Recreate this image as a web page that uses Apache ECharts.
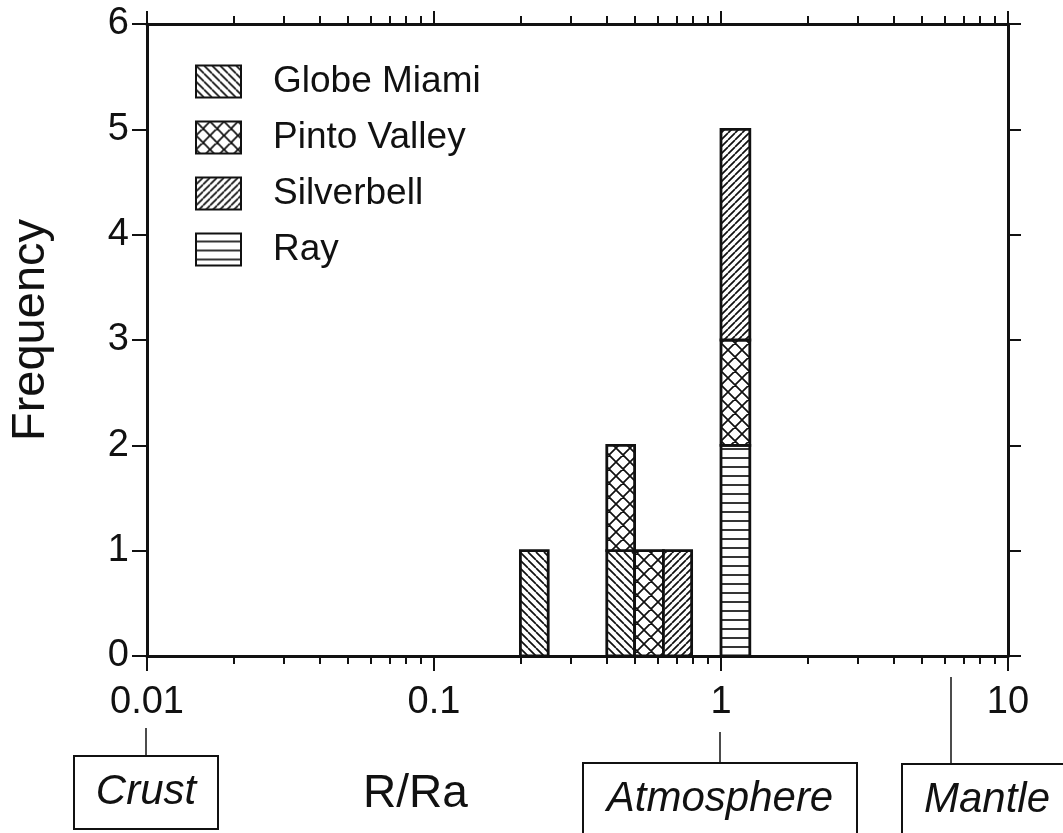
<!DOCTYPE html>
<html>
<head>
<meta charset="utf-8">
<script src="https://cdn.jsdelivr.net/npm/echarts@6/dist/echarts.min.js"></script>
<style>
  html, body { margin: 0; padding: 0; background: #fff; }
  #chart { width: 1063px; height: 833px; }
</style>
</head>
<body>
<div id="chart"></div>
<script>
// histogram bins (R/Ra, log-spaced) and counts per deposit
const binLo = [0.2, 0.4, 0.5, 0.63, 1.0]
const binHi = [0.25, 0.5, 0.63, 0.79, 1.26]
const seriesNames = ['Ray', 'Globe Miami', 'Pinto Valley', 'Silverbell']
const rayCounts = [0, 0, 0, 0, 2]
const globeMiamiCounts = [1, 1, 0, 0, 0]
const pintoValleyCounts = [0, 1, 1, 0, 1]
const silverbellCounts = [0, 0, 0, 1, 2]
const legendOrder = ['Globe Miami', 'Pinto Valley', 'Silverbell', 'Ray']

// end-member reference values on the R/Ra axis
const endMembers = ['Crust', 'Atmosphere', 'Mantle']
const endMemberValues = [0.01, 1, 6.4]

const xMajorTicks = [0.01, 0.1, 1, 10]

const FONT = '"Liberation Sans", Arial, Helvetica, sans-serif'
const INK = '#111'

// hatch fills
function hatch(kind, s) {
  const c = document.createElement('canvas')
  c.width = s; c.height = s
  const g = c.getContext('2d')
  g.fillStyle = '#fff'
  g.fillRect(0, 0, s, s)
  g.strokeStyle = INK
  g.lineWidth = 1.7
  g.beginPath()
  if (kind === 'back' || kind === 'cross') {
    for (const k of [-s, 0, s]) { g.moveTo(k, 0); g.lineTo(k + s, s) }
  }
  if (kind === 'fwd' || kind === 'cross') {
    for (const k of [-s, 0, s]) { g.moveTo(k, s); g.lineTo(k + s, 0) }
  }
  if (kind === 'horiz') {
    g.moveTo(0, s - 1); g.lineTo(s, s - 1)
  }
  g.stroke()
  return { image: c, repeat: 'repeat' }
}

const fills = {
  'Globe Miami': hatch('back', 8),
  'Pinto Valley': hatch('cross', 14),
  'Silverbell': hatch('fwd', 7),
  'Ray': hatch('horiz', 9)
}
const countsByName = {
  'Ray': rayCounts,
  'Globe Miami': globeMiamiCounts,
  'Pinto Valley': pintoValleyCounts,
  'Silverbell': silverbellCounts
}

// stack the counts bin by bin
const base = binLo.map(() => 0)
const barSeries = seriesNames.map(name => {
  const counts = countsByName[name]
  const data = []
  counts.forEach((n, i) => {
    if (n > 0) {
      data.push([binLo[i], binHi[i], base[i], base[i] + n])
      base[i] += n
    }
  })
  return {
    name: name,
    type: 'custom',
    data: data,
    encode: { x: [0, 1], y: [2, 3] },
    itemStyle: { color: fills[name], borderColor: INK, borderWidth: 2.5 },
    renderItem: function (params, api) {
      const p0 = api.coord([api.value(0), api.value(2)])
      const p1 = api.coord([api.value(1), api.value(3)])
      return {
        type: 'rect',
        shape: { x: p0[0], y: p1[1], width: p1[0] - p0[0], height: p0[1] - p1[1] },
        style: { fill: fills[name], stroke: INK, lineWidth: 2.8 }
      }
    }
  }
})

// boxes under the axis, layout per box
const boxLayout = [
  { lineTop: 728, top: 756, h: 73, w: 144, anchor: 'center' },
  { lineTop: 732, top: 763, h: 80, w: 274, anchor: 'center' },
  { lineTop: 677, top: 764, h: 80, w: 175, dx: -49 }
]

const endMemberSeries = {
  type: 'custom',
  silent: true,
  clip: false,
  z: 10,
  data: endMemberValues.map((v, i) => [v, 0, i]),
  renderItem: function (params, api) {
    const i = api.value(2)
    const L = boxLayout[i]
    const x = Math.round(api.coord([api.value(0), 0])[0]) - 1
    const left = L.anchor === 'center' ? x - L.w / 2 : x + L.dx
    return {
      type: 'group',
      children: [
        { type: 'line', shape: { x1: x, y1: L.lineTop, x2: x, y2: L.top },
          style: { stroke: INK, lineWidth: 1.5 } },
        { type: 'rect', shape: { x: left, y: L.top, width: L.w, height: L.h },
          style: { fill: '#fff', stroke: INK, lineWidth: 2 } },
        { type: 'text', x: left + (L.anchor === 'center' ? L.w / 2 : 85), y: L.top + 36,
          style: { text: endMembers[i], fill: INK, font: 'italic 42px ' + FONT,
                   align: 'center', verticalAlign: 'middle' } }
      ]
    }
  }
}

const minorTicks = []
;[0.01, 0.1, 1].forEach(d => { for (let k = 2; k <= 9; k++) minorTicks.push(+(k * d).toFixed(3)) })

function xAxisDef(pos, major) {
  return {
    type: 'log', logBase: 10, min: 0.01, max: 10, position: pos,
    axisLine: { show: major, onZero: false, lineStyle: { color: INK, width: 3 } },
    axisTick: { show: true, inside: false, length: major ? (pos === 'bottom' ? 15 : 13) : 8,
      customValues: major ? xMajorTicks : minorTicks, lineStyle: { color: INK, width: 2 } },
    axisLabel: { show: major && pos === 'bottom', customValues: xMajorTicks, margin: 28,
      color: INK, fontSize: 38, fontFamily: FONT,
      formatter: v => String(v) },
    splitLine: { show: false },
    minorTick: { show: false }
  }
}

const chart = echarts.init(document.getElementById('chart'), null, { renderer: 'canvas' })
chart.setOption({
  backgroundColor: '#fff',
  animation: false,
  textStyle: { fontFamily: FONT },
  grid: { left: 146, right: 55, top: 24, bottom: 177 },
  title: {
    text: 'R/Ra', left: 358, top: 766,
    textStyle: { fontSize: 46, fontWeight: 'normal', color: INK, fontFamily: FONT }
  },
  legend: {
    data: legendOrder.map(n => ({ name: n, icon: 'rect' })),
    orient: 'vertical', left: 190, top: 58,
    itemWidth: 45, itemHeight: 32, itemGap: 19,
    selectedMode: false,
    textStyle: { fontSize: 37, lineHeight: 32, color: INK, fontFamily: FONT, padding: [0, 0, 0, 27] }
  },
  xAxis: [
    xAxisDef('bottom', true),
    xAxisDef('bottom', false),
    xAxisDef('top', true),
    xAxisDef('top', false)
  ],
  yAxis: [
    {
      type: 'value', min: 0, max: 6, interval: 1, position: 'left',
      name: 'Frequency', nameLocation: 'middle', nameGap: 92,
      nameTextStyle: { fontSize: 47, color: INK, fontFamily: FONT, padding: [0, 0, 0, 20] },
      axisLine: { show: true, lineStyle: { color: INK, width: 3 } },
      axisTick: { show: true, length: 15, lineStyle: { color: INK, width: 2 } },
      axisLabel: { margin: 18, fontSize: 38, color: INK, fontFamily: FONT },
      splitLine: { show: false }
    },
    {
      type: 'value', min: 0, max: 6, interval: 1, position: 'right',
      axisLine: { show: true, lineStyle: { color: INK, width: 3 } },
      axisTick: { show: true, length: 13, lineStyle: { color: INK, width: 2 } },
      axisLabel: { show: false },
      splitLine: { show: false }
    }
  ],
  series: barSeries.concat([endMemberSeries])
})

window.onresize = function () {
  chart.resize()
}
</script>
</body>
</html>
